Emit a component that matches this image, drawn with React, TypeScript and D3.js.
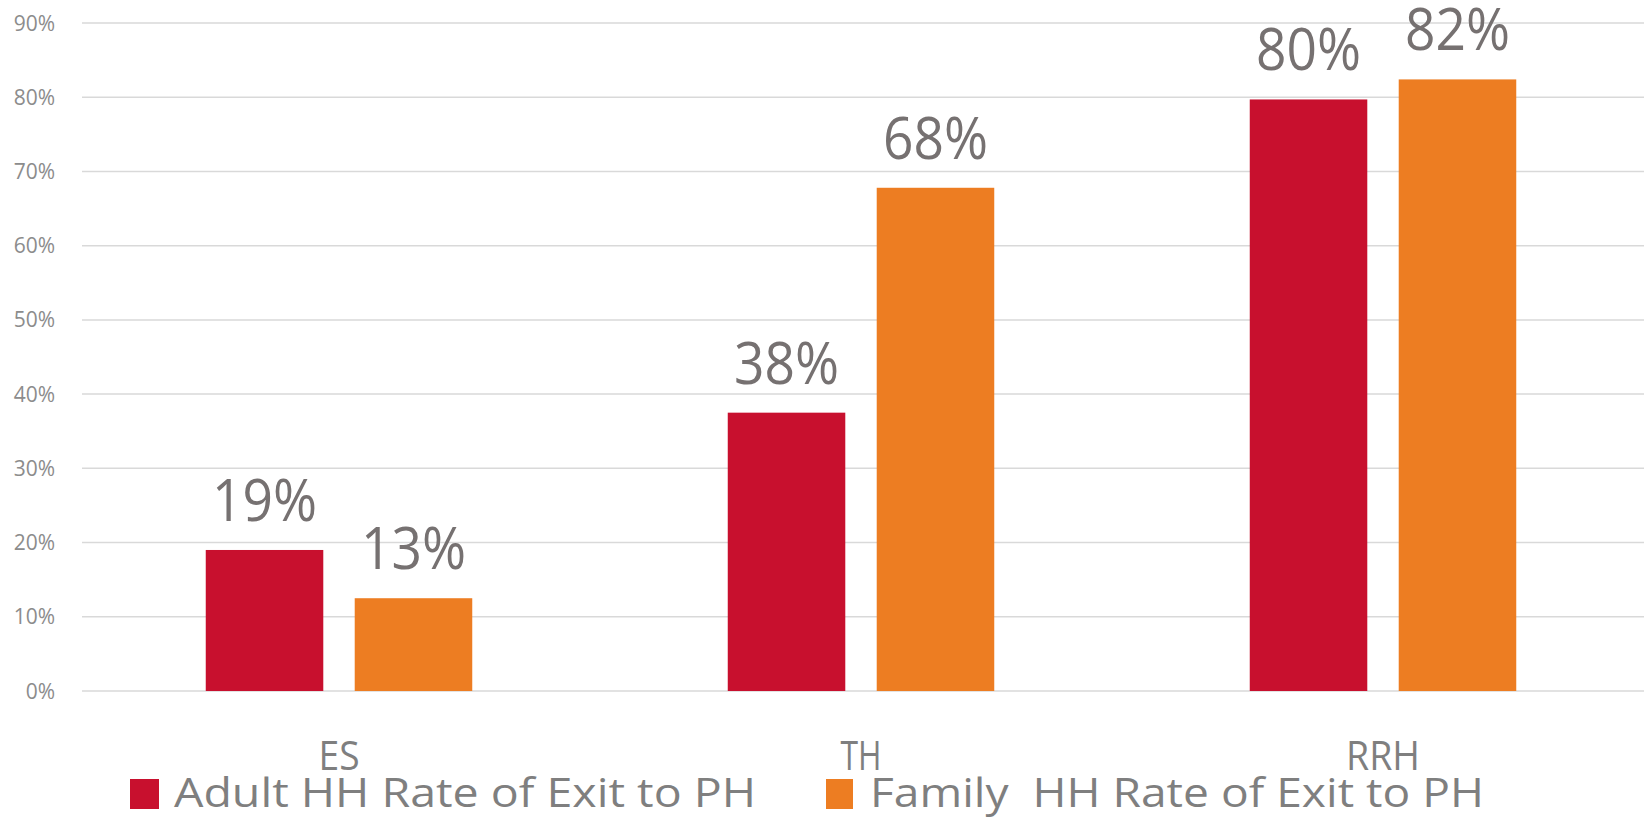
import React from "react";
import * as d3 from "d3";

const categories = ["ES", "TH", "RRH"];
const seriesNames = ["Adult HH Rate of Exit to PH", "Family  HH Rate of Exit to PH"];
const adultValues = [0.19, 0.375, 0.797];
const familyValues = [0.125, 0.678, 0.824];
const adultLabels = ["19%", "38%", "80%"];
const familyLabels = ["13%", "68%", "82%"];
const yTicks = [0, 0.1, 0.2, 0.3, 0.4, 0.5, 0.6, 0.7, 0.8, 0.9];
const colors = ["#C8102E", "#ED7D22"];

const W = 1647;
const H = 818;
const font = "'Open Sans', sans-serif";

export default function App() {
  const x0 = d3.scaleBand<string>().domain(categories).range([78, 1644]).padding(0);
  const groupW = 266.5;
  const x1 = d3.scaleBand<string>().domain(seriesNames).range([0, groupW]).paddingInner(0.211).paddingOuter(0);
  const y = d3.scaleLinear().domain([0, 0.9]).range([691, 23]);
  const fmt = d3.format(".0%");
  const series = [
    { name: seriesNames[0], values: adultValues, labels: adultLabels, color: colors[0] },
    { name: seriesNames[1], values: familyValues, labels: familyLabels, color: colors[1] },
  ];
  const groupStart = (c: string) => (x0(c) as number) + (x0.bandwidth() - groupW) / 2;
  const catWidths: Record<string, number> = { ES: 41, TH: 41, RRH: 74 };

  return (
    <svg width={W} height={H} style={{ display: "block", position: "absolute", left: 0, top: 0 }}>
      <rect width={W} height={H} fill="#fff" />
      {yTicks.map((t) => (
        <g key={t}>
          <line x1={82} x2={1644} y1={y(t)} y2={y(t)} stroke="#d9d9d9" strokeWidth={1.5} />
          <text x={55} y={y(t) + 7.5} textAnchor="end" fontFamily={font} fontSize={21} fill="#8c8c8c">
            {fmt(t)}
          </text>
        </g>
      ))}
      {series.map((s) =>
        categories.map((c, i) => {
          const bx = groupStart(c) + (x1(s.name) as number);
          const by = y(s.values[i]);
          return (
            <g key={s.name + c}>
              <rect x={bx} y={by} width={x1.bandwidth()} height={y(0) - by} fill={s.color} />
              <text
                x={bx + x1.bandwidth() / 2}
                y={by - 29}
                textAnchor="middle"
                fontFamily={font}
                fontSize={59}
                fill="#767171"
                textLength={105}
                lengthAdjust="spacingAndGlyphs"
              >
                {s.labels[i]}
              </text>
            </g>
          );
        })
      )}
      {categories.map((c) => (
        <text
          key={c}
          x={groupStart(c) + groupW / 2}
          y={770}
          textAnchor="middle"
          fontFamily={font}
          fontSize={41}
          fill="#7f7f7f"
          textLength={catWidths[c]}
          lengthAdjust="spacingAndGlyphs"
        >
          {c}
        </text>
      ))}
      <rect x={130} y={779} width={29} height={30} fill={colors[0]} />
      <text x={174} y={807} fontFamily={font} fontSize={41} fill="#7f7f7f" textLength={582} lengthAdjust="spacingAndGlyphs">
        {seriesNames[0]}
      </text>
      <rect x={826} y={779} width={27} height={30} fill={colors[1]} />
      <text x={870} y={807} fontFamily={font} fontSize={41} fill="#7f7f7f" textLength={614} lengthAdjust="spacingAndGlyphs" style={{ whiteSpace: "pre" }}>
        {seriesNames[1]}
      </text>
    </svg>
  );
}
